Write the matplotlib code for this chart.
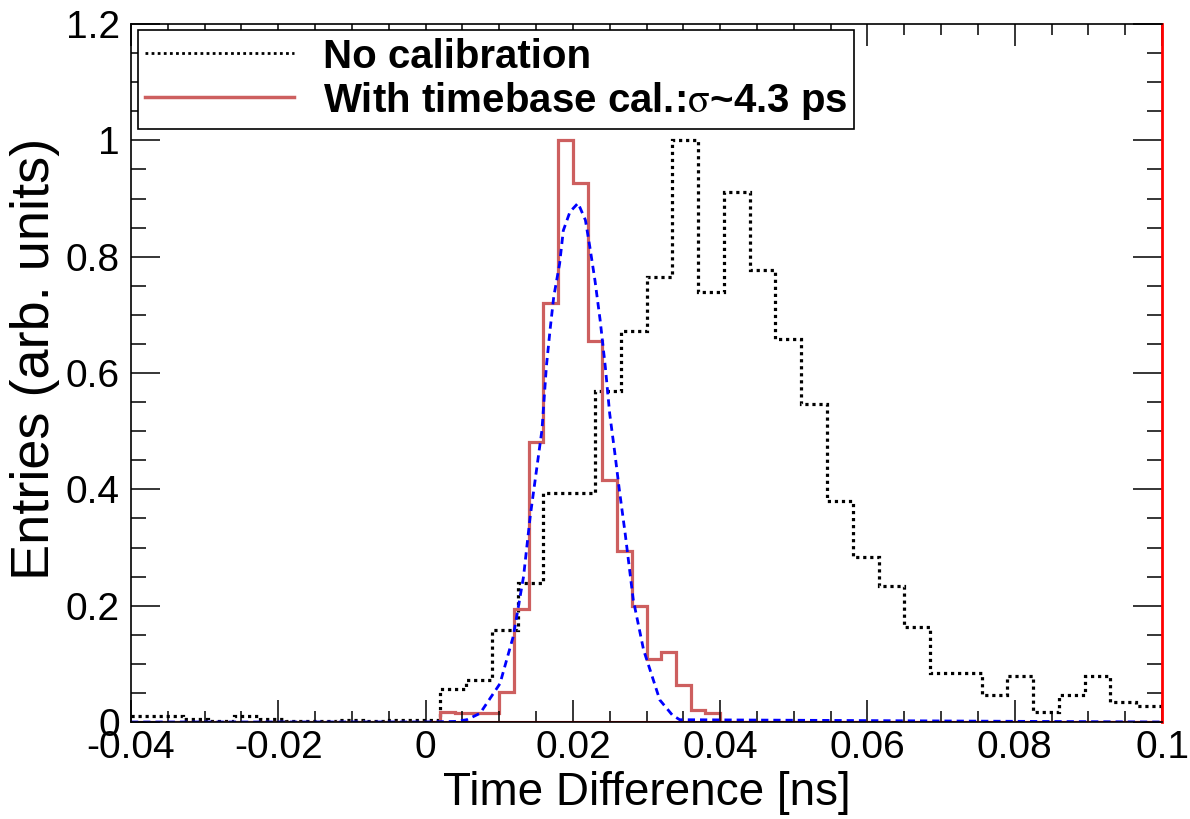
import numpy as np
import matplotlib
matplotlib.use('Agg')
import matplotlib.pyplot as plt
from matplotlib.lines import Line2D
from matplotlib.ticker import FixedLocator, FixedFormatter, MultipleLocator

plt.rcParams['font.family'] = ['Liberation Sans', 'DejaVu Sans']
plt.rcParams['mathtext.fontset'] = 'stix'

# range of the histograms [ns]
x_min, x_max = -0.04, 0.1

# no calibration: 40 bins over the range
nocal = [0.011, 0.011, 0.005, 0.001, 0.011, 0.005, 0.002, 0.002, 0.003, 0.001,
         0.004, 0.004, 0.056, 0.072, 0.158, 0.239, 0.393, 0.393, 0.569, 0.672,
         0.765, 1.000, 0.739, 0.911, 0.777, 0.659, 0.546, 0.380, 0.284, 0.234,
         0.163, 0.084, 0.084, 0.046, 0.079, 0.017, 0.046, 0.079, 0.034, 0.027]

# with timebase calibration: 70 bins over the range
cal = [0, 0, 0, 0, 0, 0, 0, 0, 0, 0,
       0, 0, 0, 0, 0, 0, 0, 0, 0, 0,
       0, 0.017, 0.015, 0.015, 0.015, 0.052, 0.195, 0.482, 0.720, 1.000,
       0.927, 0.655, 0.416, 0.294, 0.199, 0.108, 0.120, 0.064, 0.021, 0.015,
       0, 0, 0, 0, 0, 0, 0, 0, 0, 0,
       0, 0, 0, 0, 0, 0, 0, 0, 0, 0,
       0, 0, 0, 0, 0, 0, 0, 0, 0, 0]

# gaussian fit curve
fit_x = [-0.04, 0.0, 0.004, 0.0056, 0.0074, 0.0101, 0.0119, 0.0133, 0.0142, 0.0158,
         0.0164, 0.0169, 0.0174, 0.0182, 0.0187, 0.0196, 0.0207, 0.0217, 0.0223, 0.0230,
         0.0237, 0.0244, 0.0250, 0.0257, 0.0263, 0.0271, 0.0282, 0.0296, 0.0318, 0.0335,
         0.0345, 0.1]
fit_y = [0.0, 0.0, 0.001, 0.004, 0.015, 0.066, 0.147, 0.250, 0.353, 0.502,
         0.611, 0.674, 0.731, 0.788, 0.845, 0.877, 0.892, 0.863, 0.817, 0.759,
         0.691, 0.611, 0.530, 0.462, 0.400, 0.324, 0.210, 0.124, 0.038, 0.012,
         0.004, 0.0]

# empty red histogram along the axis
zero_x = [0.0, 0.1]

x_ticks = [-0.04, -0.02, 0.0, 0.02, 0.04, 0.06, 0.08, 0.1]
x_tick_labels = ['-0.04', '-0.02', '0', '0.02', '0.04', '0.06', '0.08', '0.1']
y_ticks = [0.0, 0.2, 0.4, 0.6, 0.8, 1.0, 1.2]
y_tick_labels = ['0', '0.2', '0.4', '0.6', '0.8', '1', '1.2']

legend_labels = ['No calibration', r'With timebase cal.:$\mathrm{\sigma}$~4.3 ps']

red_faded = '#cd5f5f'
dotted = (0, (1, 1.2))
dashed = (0, (2.6, 1.8))

fig = plt.figure(figsize=(11.9, 8.19), dpi=100)
ax = fig.add_axes([0.1101, 0.1184, 0.8664, 0.8523])

edges_nocal = np.linspace(x_min, x_max, len(nocal) + 1)
edges_cal = np.linspace(x_min, x_max, len(cal) + 1)

ax.stairs(nocal, edges_nocal, baseline=None, color='black', linestyle=dotted, linewidth=2.3)
ax.stairs(cal, edges_cal, baseline=None, color=red_faded, linewidth=2.3)
ax.plot(zero_x, [0, 0], color='red', linewidth=2.2)
ax.plot(fit_x, fit_y, color='blue', linestyle=dashed, linewidth=2.0)

ax.set_xlim(x_min, x_max)
ax.set_ylim(0, 1.2)

ax.xaxis.set_major_locator(FixedLocator(x_ticks))
ax.xaxis.set_major_formatter(FixedFormatter(x_tick_labels))
ax.yaxis.set_major_locator(FixedLocator(y_ticks))
ax.yaxis.set_major_formatter(FixedFormatter(y_tick_labels))
ax.xaxis.set_minor_locator(MultipleLocator(0.005))
ax.yaxis.set_minor_locator(MultipleLocator(0.05))

ax.tick_params(which='both', direction='in', top=True, right=True, width=1.1, color='black')
ax.tick_params(axis='x', which='major', length=16, labelsize=28, pad=6)
ax.tick_params(axis='x', which='minor', length=8)
ax.tick_params(axis='y', which='major', length=21, labelsize=28, pad=8)
ax.tick_params(axis='y', which='minor', length=11)

for s in ax.spines.values():
    s.set_linewidth(1.2)
ax.spines['right'].set_color('red')
ax.spines['right'].set_linewidth(2)

ax.set_xlabel('Time Difference [ns]', fontsize=33, labelpad=3)
ax.set_ylabel('Entries (arb. units)', fontsize=39)
ax.yaxis.set_label_coords(-0.069, 0.52)

handles = [Line2D([], [], color='black', linestyle=dotted, linewidth=2.0),
           Line2D([], [], color=red_faded, linewidth=2.5)]
leg = ax.legend(handles, legend_labels, loc='upper left', bbox_to_anchor=(0.0068, 0.991),
                prop={'weight': 'bold', 'size': 29}, frameon=True, fancybox=False,
                edgecolor='black', framealpha=1, borderaxespad=0, handlelength=3.7,
                handletextpad=0.7, borderpad=0.18, labelspacing=0.1)
leg.get_frame().set_linewidth(1.2)

fig.savefig('out.png', dpi=100)
